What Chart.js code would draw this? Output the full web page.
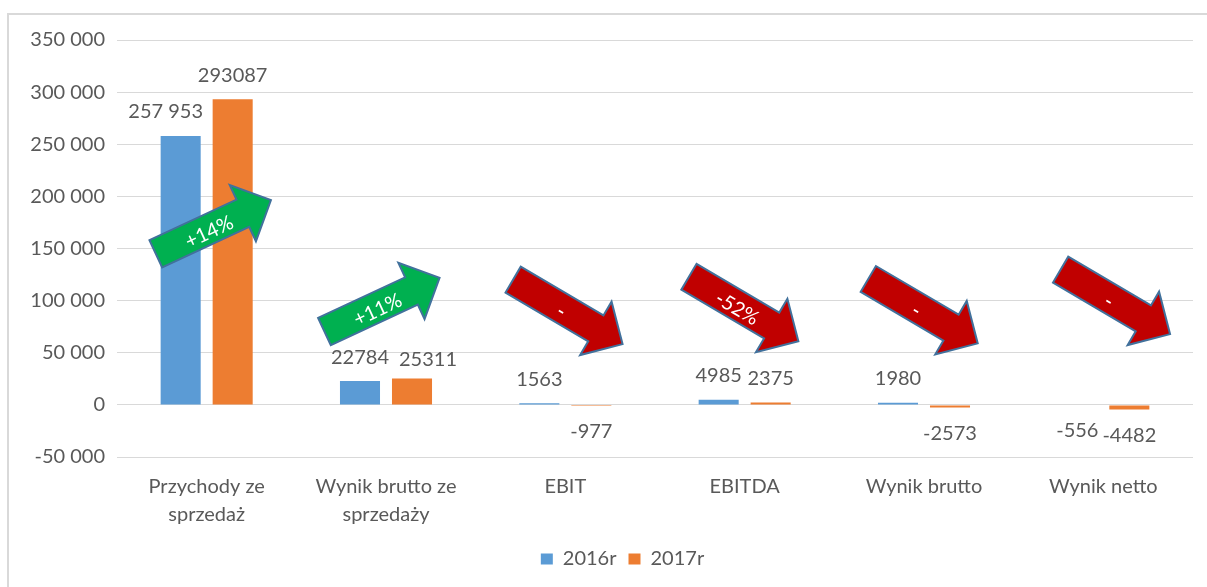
<!DOCTYPE html>
<html>
<head>
<meta charset="utf-8">
<script src="https://cdn.jsdelivr.net/npm/chart.js@4.4.1/dist/chart.umd.min.js"></script>
<style>
  html, body { margin: 0; padding: 0; background: #fff; overflow: hidden; }
  #frame { position: absolute; left: 7px; top: 13px; width: 1300px; height: 700px; border: 2px solid #D9D9D9; box-sizing: border-box; }
  #wrap { position: absolute; left: 0; top: 0; width: 1207px; height: 587px; }
</style>
</head>
<body>
<div id="frame"></div>
<div id="wrap"><canvas id="c"></canvas></div>
<script>
// ---- data ----
const categories = [
  ["Przychody ze", "sprzedaż"],
  ["Wynik brutto ze", "sprzedaży"],
  "EBIT",
  "EBITDA",
  "Wynik brutto",
  "Wynik netto"
];
const seriesNames = ["2016r", "2017r"];
const values2016 = [257953, 22784, 1563, 4985, 1980, -556];
const values2017 = [293087, 25311, -977, 2375, -2573, -4482];
const labels2016 = ["257 953", "22784", "1563", "4985", "1980", "-556"];
const labels2017 = ["293087", "25311", "-977", "2375", "-2573", "-4482"];
const yTicks = { min: -50000, max: 350000, step: 50000 };
const arrowTexts = ["+14%", "+11%", "-", "-52%", "-", "-"];
const arrowKinds = ["up", "up", "down", "down", "down", "down"];
const arrowLevels = [170700, 96100, 89200, 92000, 89900, 98800];

// ---- styles / placement (decoration) ----
const FONT = "Lato, 'Open Sans', sans-serif";
const TEXT = "#595959";
const arrowStyle = {
  up:   { fill: "#00B050", angle: -25 },
  down: { fill: "#C00000", angle: 30.5 }
};
const arrowDx = [6.7, -4, 2.5, -1, -1, 12];
const labelNudge = { "0-0": { dx: -15, dy: 0 }, "1-1": { dx: 16, dy: 5 } };
const LEGEND_SHIFT = 26;

function fmt(v) {
  const s = Math.abs(v).toString().replace(/\B(?=(\d{3})+(?!\d))/g, " ");
  return (v < 0 ? "-" : "") + s;
}

const legendShift = {
  id: "legendShift",
  afterLayout(chart) {
    if (chart.legend) { chart.legend.left += LEGEND_SHIFT; chart.legend.right += LEGEND_SHIFT; }
  }
};

const arrowPlugin = {
  id: "arrows",
  afterDatasetsDraw(chart) {
    const ctx = chart.ctx;
    const xs = chart.scales.x, ys = chart.scales.y;
    const L = 127, s = 30, h = 62, hl = 31;
    arrowTexts.forEach((txt, i) => {
      const st = arrowStyle[arrowKinds[i]];
      const cx = xs.getPixelForValue(i) + arrowDx[i];
      const cy = ys.getPixelForValue(arrowLevels[i]);
      ctx.save();
      ctx.translate(cx, cy);
      ctx.rotate(st.angle * Math.PI / 180);
      ctx.beginPath();
      ctx.moveTo(-L / 2, -s / 2);
      ctx.lineTo(L / 2 - hl, -s / 2);
      ctx.lineTo(L / 2 - hl, -h / 2);
      ctx.lineTo(L / 2, 0);
      ctx.lineTo(L / 2 - hl, h / 2);
      ctx.lineTo(L / 2 - hl, s / 2);
      ctx.lineTo(-L / 2, s / 2);
      ctx.closePath();
      ctx.fillStyle = st.fill;
      ctx.fill();
      ctx.lineWidth = 2;
      ctx.strokeStyle = "#41719C";
      ctx.lineJoin = "miter";
      ctx.stroke();
      ctx.fillStyle = "#FFFFFF";
      ctx.font = "20px " + FONT;
      ctx.textAlign = "center";
      ctx.textBaseline = "middle";
      ctx.fillText(txt, -6, 3);
      ctx.restore();
    });
  }
};

const labelPlugin = {
  id: "valueLabels",
  afterDatasetsDraw(chart) {
    const ctx = chart.ctx;
    const texts = [labels2016, labels2017];
    ctx.save();
    ctx.font = "20px " + FONT;
    ctx.fillStyle = TEXT;
    ctx.textAlign = "center";
    ctx.textBaseline = "middle";
    chart.data.datasets.forEach((ds, di) => {
      const meta = chart.getDatasetMeta(di);
      meta.data.forEach((bar, i) => {
        const v = ds.data[i];
        const n = labelNudge[di + "-" + i] || { dx: 0, dy: 0 };
        const y = v >= 0 ? bar.y - 24 : bar.y + 25.5;
        ctx.fillText(texts[di][i], bar.x + n.dx, y + n.dy);
      });
    });
    ctx.restore();
  }
};

new Chart(document.getElementById("c"), {
  type: "bar",
  data: {
    labels: categories,
    datasets: [
      { label: seriesNames[0], data: values2016, backgroundColor: "#5B9BD5", categoryPercentage: 0.58, barPercentage: 0.77 },
      { label: seriesNames[1], data: values2017, backgroundColor: "#ED7D31", categoryPercentage: 0.58, barPercentage: 0.77 }
    ]
  },
  options: {
    responsive: true,
    maintainAspectRatio: false,
    animation: false,
    devicePixelRatio: 1,
    layout: { padding: { top: 40, right: 14, bottom: 8, left: 0 } },
    plugins: {
      tooltip: { enabled: false },
      legend: {
        position: "bottom",
        labels: {
          boxWidth: 12, boxHeight: 11, padding: 12,
          color: TEXT, font: { family: FONT, size: 20 }
        }
      }
    },
    scales: {
      x: {
        grid: { display: false, drawTicks: false },
        border: { display: false },
        ticks: {
          color: TEXT, font: { family: FONT, size: 20, lineHeight: 1.4 },
          padding: 16, maxRotation: 0, autoSkip: false
        },
        afterFit(scale) { scale.height = 80; }
      },
      y: {
        min: yTicks.min, max: yTicks.max,
        grid: { color: "#D9D9D9", lineWidth: 1, drawTicks: false },
        border: { display: false },
        ticks: {
          stepSize: yTicks.step, color: TEXT, padding: 12,
          font: { family: FONT, size: 20 },
          callback: (v) => fmt(v)
        },
        afterFit(scale) { scale.width = 117; }
      }
    }
  },
  plugins: [legendShift, arrowPlugin, labelPlugin]
});
</script>
</body>
</html>
